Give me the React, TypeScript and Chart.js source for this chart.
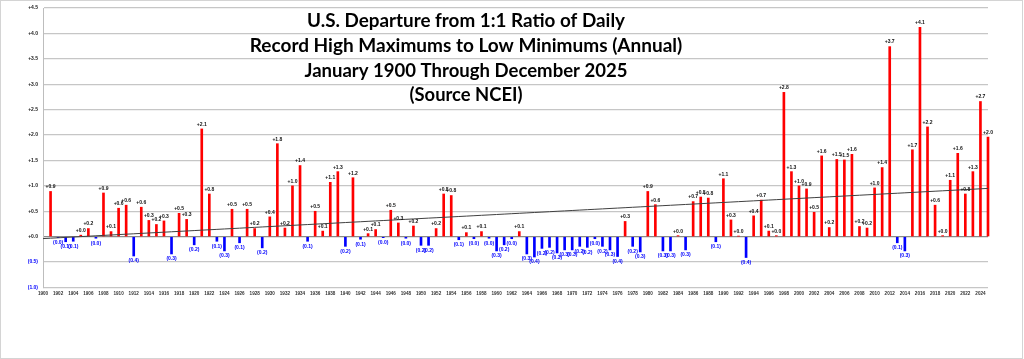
import React, { useEffect, useRef } from "react";
import { Chart, registerables } from "chart.js";

Chart.register(...registerables);

// Category labels: years 1900 .. 2025
const firstYear = 1900;
const lastYear = 2025;
const years: string[] = [];
for (let y = firstYear; y <= lastYear; y++) years.push(String(y));

// Annual departure from 1:1 ratio (record highs : record lows)
const departure: (number | null)[] = [
  // 1900s
  null, 0.89, -0.02, -0.1, -0.09, 0.03, 0.16, -0.03, 0.86, 0.1,
  // 1910s
  0.56, 0.62, -0.38, 0.58, 0.32, 0.24, 0.31, -0.34, 0.46, 0.34,
  // 1920s
  -0.16, 2.12, 0.84, -0.09, -0.28, 0.54, -0.12, 0.54, 0.16, -0.22,
  // 1930s
  0.39, 1.83, 0.17, 1.0, 1.4, -0.09, 0.5, 0.11, 1.07, 1.28,
  // 1940s
  -0.19, 1.16, -0.05, 0.06, 0.14, -0.02, 0.52, 0.27, -0.03, 0.21,
  // 1950s
  -0.17, -0.17, 0.16, 0.84, 0.81, -0.06, 0.08, -0.04, 0.1, -0.03,
  // 1960s
  -0.28, -0.16, -0.04, 0.1, -0.34, -0.4, -0.23, -0.21, -0.32, -0.26,
  // 1970s
  -0.26, -0.19, -0.21, -0.04, -0.19, -0.26, -0.39, 0.3, -0.19, -0.3,
  // 1980s
  0.89, 0.63, -0.28, -0.28, 0.02, -0.26, 0.69, 0.78, 0.76, -0.1,
  // 1990s
  1.14, 0.33, 0.01, -0.41, 0.41, 0.72, 0.11, 0.02, 2.84, 1.28,
  // 2000s
  1.0, 0.94, 0.48, 1.59, 0.18, 1.52, 1.51, 1.62, 0.2, 0.17,
  // 2010s
  0.96, 1.36, 3.74, -0.12, -0.28, 1.71, 4.12, 2.16, 0.62, 0.02,
  // 2020s
  1.11, 1.64, 0.84, 1.28, 2.66, 1.96,
];

const titleLines: string[] = [
  "U.S. Departure from 1:1 Ratio of Daily",
  "Record High Maximums to Low Minimums (Annual)",
  "January 1900 Through December 2025",
  "(Source NCEI)",
];

const yMin = -1.0;
const yMax = 4.5;
const yStep = 0.5;

// Linear least-squares trend line (as Excel's linear trendline)
function linearTrend(vals: (number | null)[]): number[] {
  let n = 0, sx = 0, sy = 0, sxx = 0, sxy = 0;
  vals.forEach((v, i) => {
    if (v == null) return;
    n++; sx += i; sy += v; sxx += i * i; sxy += i * v;
  });
  const slope = (n * sxy - sx * sy) / (n * sxx - sx * sx);
  const icpt = (sy - slope * sx) / n;
  return vals.map((_, i) => icpt + slope * i);
}

function fmt(v: number): string {
  if (v < 0) return "(" + Math.abs(v).toFixed(1) + ")";
  return "+" + v.toFixed(1);
}

const RED = "#ff0000";
const BLUE = "#0000ff";

const barLabelPlugin = {
  id: "barLabels",
  afterDatasetsDraw(chart: any) {
    const meta = chart.getDatasetMeta(0);
    const ctx = chart.ctx;
    ctx.save();
    ctx.font = 'bold 5px "Liberation Sans"';
    ctx.textAlign = "center";
    meta.data.forEach((el: any, i: number) => {
      const v = departure[i];
      if (v == null) return;
      const { x, y } = el.getProps(["x", "y"], true);
      if (v >= 0) {
        ctx.fillStyle = "#111111";
        ctx.textBaseline = "bottom";
        ctx.fillText(fmt(v), x, y - 2);
      } else {
        ctx.fillStyle = BLUE;
        ctx.textBaseline = "top";
        ctx.fillText(fmt(v), x, y + 2.5);
      }
    });
    ctx.restore();
  },
};

const titlePlugin = {
  id: "multiTitle",
  afterDraw(chart: any) {
    const ctx = chart.ctx;
    ctx.save();
    ctx.fillStyle = "#000000";
    ctx.textAlign = "center";
    ctx.textBaseline = "alphabetic";
    ctx.font = 'bold 19px Lato';
    const cx = 466;
    const baselines = [27, 52, 77, 101];
    const widths = [318, 445, 323, 113];
    titleLines.forEach((t, i) => {
      ctx.fillText(t, cx, baselines[i], widths[i]);
    });
    ctx.restore();
  },
};

export default function App() {
  const canvasRef = useRef<HTMLCanvasElement | null>(null);

  useEffect(() => {
    document.body.style.margin = "0";
    const canvas = canvasRef.current;
    if (!canvas) return;
    const trend = linearTrend(departure);
    const chart = new Chart(canvas, {
      type: "bar",
      data: {
        labels: years,
        datasets: [
          {
            type: "bar",
            label: "Departure",
            data: departure as any,
            backgroundColor: departure.map((v) => (v != null && v < 0 ? BLUE : RED)),
            borderWidth: 0,
            barThickness: 2,
            order: 2,
            clip: false as any,
          },
          {
            type: "line",
            label: "Trend",
            data: trend,
            borderColor: "#404040",
            borderWidth: 1,
            pointRadius: 0,
            fill: false,
            order: 1,
          } as any,
        ],
      },
      options: {
        responsive: false,
        animation: false,
        events: [],
        layout: { padding: { top: 4, right: 36, left: 0, bottom: 0 } },
        plugins: {
          legend: { display: false },
          title: { display: false },
          tooltip: { enabled: false },
        },
        scales: {
          x: {
            type: "category",
            offset: false,
            grid: { display: false, drawTicks: false },
            border: { display: false },
            ticks: {
              autoSkip: false,
              maxRotation: 0,
              minRotation: 0,
              padding: 3,
              color: "#333333",
              font: { family: '"Liberation Sans"', size: 4.6, weight: "bold" },
              callback: (_v: any, i: number) => ((firstYear + i) % 2 === 0 ? String(firstYear + i) : ""),
            },
            afterFit: (scale: any) => {
              scale.height = 71.5;
            },
          },
          y: {
            min: yMin,
            max: yMax,
            grid: {
              drawTicks: false,
              color: (c: any) => (c.tick && c.tick.value === 0 ? "#8a8a8a" : "#c6c6c6"),
              lineWidth: 1.3,
            },
            border: { display: true, color: "#bdbdbd", width: 1 },
            ticks: {
              stepSize: yStep,
              padding: 5,
              color: (c: any) => (c.tick && c.tick.value < 0 ? BLUE : "#222222"),
              font: { family: '"Liberation Sans"', size: 5, weight: "bold" },
              callback: (v: any) => fmt(Number(v)),
            },
            afterFit: (scale: any) => {
              scale.width = 43;
            },
          },
        },
      },
      plugins: [barLabelPlugin, titlePlugin],
    });
    return () => chart.destroy();
  }, []);

  return (
    <div style={{ position: "fixed", left: 0, top: 0, width: 1024, height: 359, background: "#ffffff" }}>
      <canvas ref={canvasRef} width={1024} height={359} style={{ position: "absolute", left: 0, top: 0 }} />
      <div
        style={{
          position: "absolute",
          left: 0,
          top: 0,
          width: 1023,
          height: 359,
          boxSizing: "border-box",
          border: "1px solid #d4d4d4",
          pointerEvents: "none",
        }}
      />
    </div>
  );
}
